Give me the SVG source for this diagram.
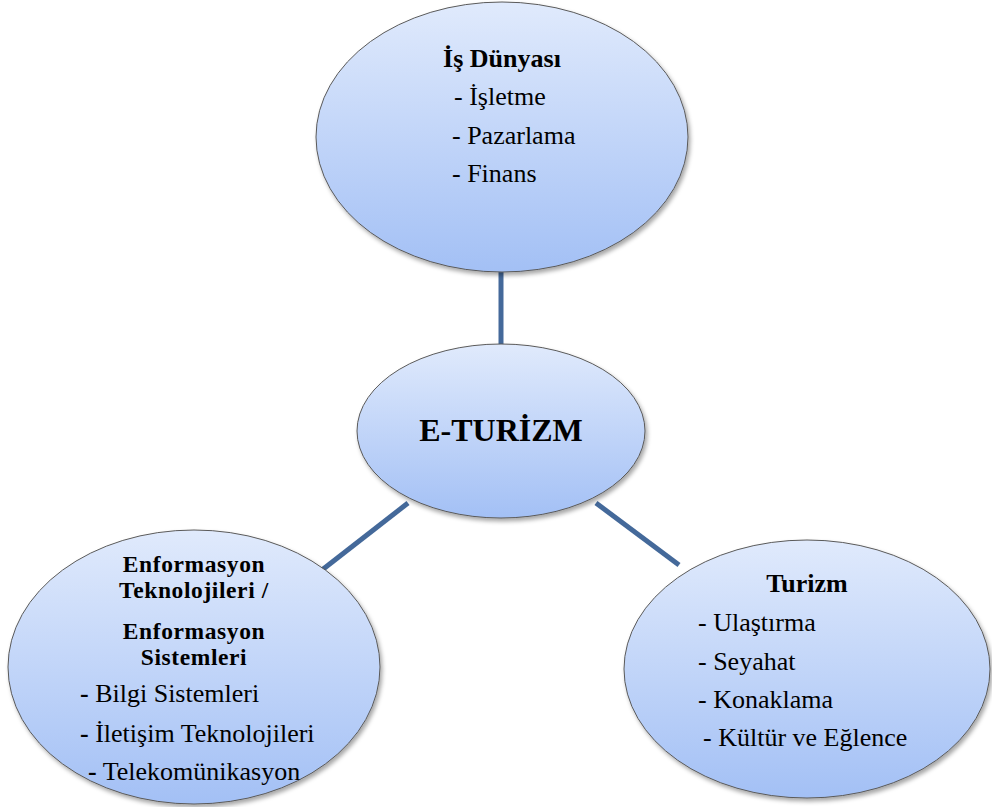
<svg xmlns="http://www.w3.org/2000/svg" width="992" height="807" viewBox="0 0 992 807">
  <defs>
    <linearGradient id="bubble" x1="0" y1="0" x2="0" y2="1">
      <stop offset="0" stop-color="#e0eafc"/>
      <stop offset="1" stop-color="#a3c0f5"/>
    </linearGradient>
    <filter id="shade" x="-10%" y="-10%" width="125%" height="125%">
      <feDropShadow dx="2" dy="3" stdDeviation="2" flood-color="#000" flood-opacity="0.35"/>
    </filter>
  </defs>
  <style>
    .bubble { fill: url(#bubble); stroke: #5a5a5a; stroke-width: 1; filter: url(#shade); }
    .link { stroke: #44699a; stroke-width: 5; fill: none; }
    .title { font-weight: bold; text-anchor: middle; }
    .tight { font-size: 23.5px; letter-spacing: 0.6px; }
    .core { font-weight: bold; font-size: 32px; text-anchor: middle; }
    .b { font-weight: bold; }
  </style>
  <rect width="992" height="807" fill="#ffffff"/>

  <!-- connectors between the hub and the three fields -->
  <g id="connectors">
    <line class="link" x1="501" y1="270" x2="501" y2="350"/>
    <line class="link" x1="408" y1="503" x2="322" y2="570"/>
    <line class="link" x1="596" y1="503" x2="679" y2="565"/>
  </g>

  <g font-family="'Liberation Serif', 'Times New Roman', serif" font-size="26" fill="#000">
    <!-- business field -->
    <g id="is-dunyasi">
      <ellipse class="bubble" cx="502" cy="137" rx="186" ry="135"/>
      <text class="title" x="502" y="67">İş Dünyası</text>
      <text x="454" y="105">- İşletme</text>
      <text x="452" y="144">- Pazarlama</text>
      <text x="452" y="182">- Finans</text>
    </g>

    <!-- central hub -->
    <g id="e-turizm">
      <ellipse class="bubble" cx="501" cy="431" rx="144" ry="87"/>
      <text class="core" x="501" y="441">E-TURİZM</text>
    </g>

    <!-- information technologies field -->
    <g id="enformasyon">
      <ellipse class="bubble" cx="194" cy="667" rx="186" ry="137"/>
      <text class="title tight" x="194" y="572">Enformasyon</text>
      <text class="title tight" x="194" y="598">Teknolojileri /</text>
      <text class="title tight" x="194" y="639">Enformasyon</text>
      <text class="title tight" x="194" y="665">Sistemleri</text>
      <text x="80" y="702"><tspan class="b">-</tspan> Bilgi Sistemleri</text>
      <text x="80" y="742"><tspan class="b">-</tspan> İletişim Teknolojileri</text>
      <text x="88" y="780"><tspan class="b">-</tspan> Telekomünikasyon</text>
    </g>

    <!-- tourism field -->
    <g id="turizm">
      <ellipse class="bubble" cx="807" cy="669" rx="183" ry="129"/>
      <text class="title" x="807" y="592">Turizm</text>
      <text x="698" y="631">- Ulaştırma</text>
      <text x="698" y="670">- Seyahat</text>
      <text x="698" y="708">- Konaklama</text>
      <text x="703" y="746">- Kültür ve Eğlence</text>
    </g>
  </g>
</svg>
